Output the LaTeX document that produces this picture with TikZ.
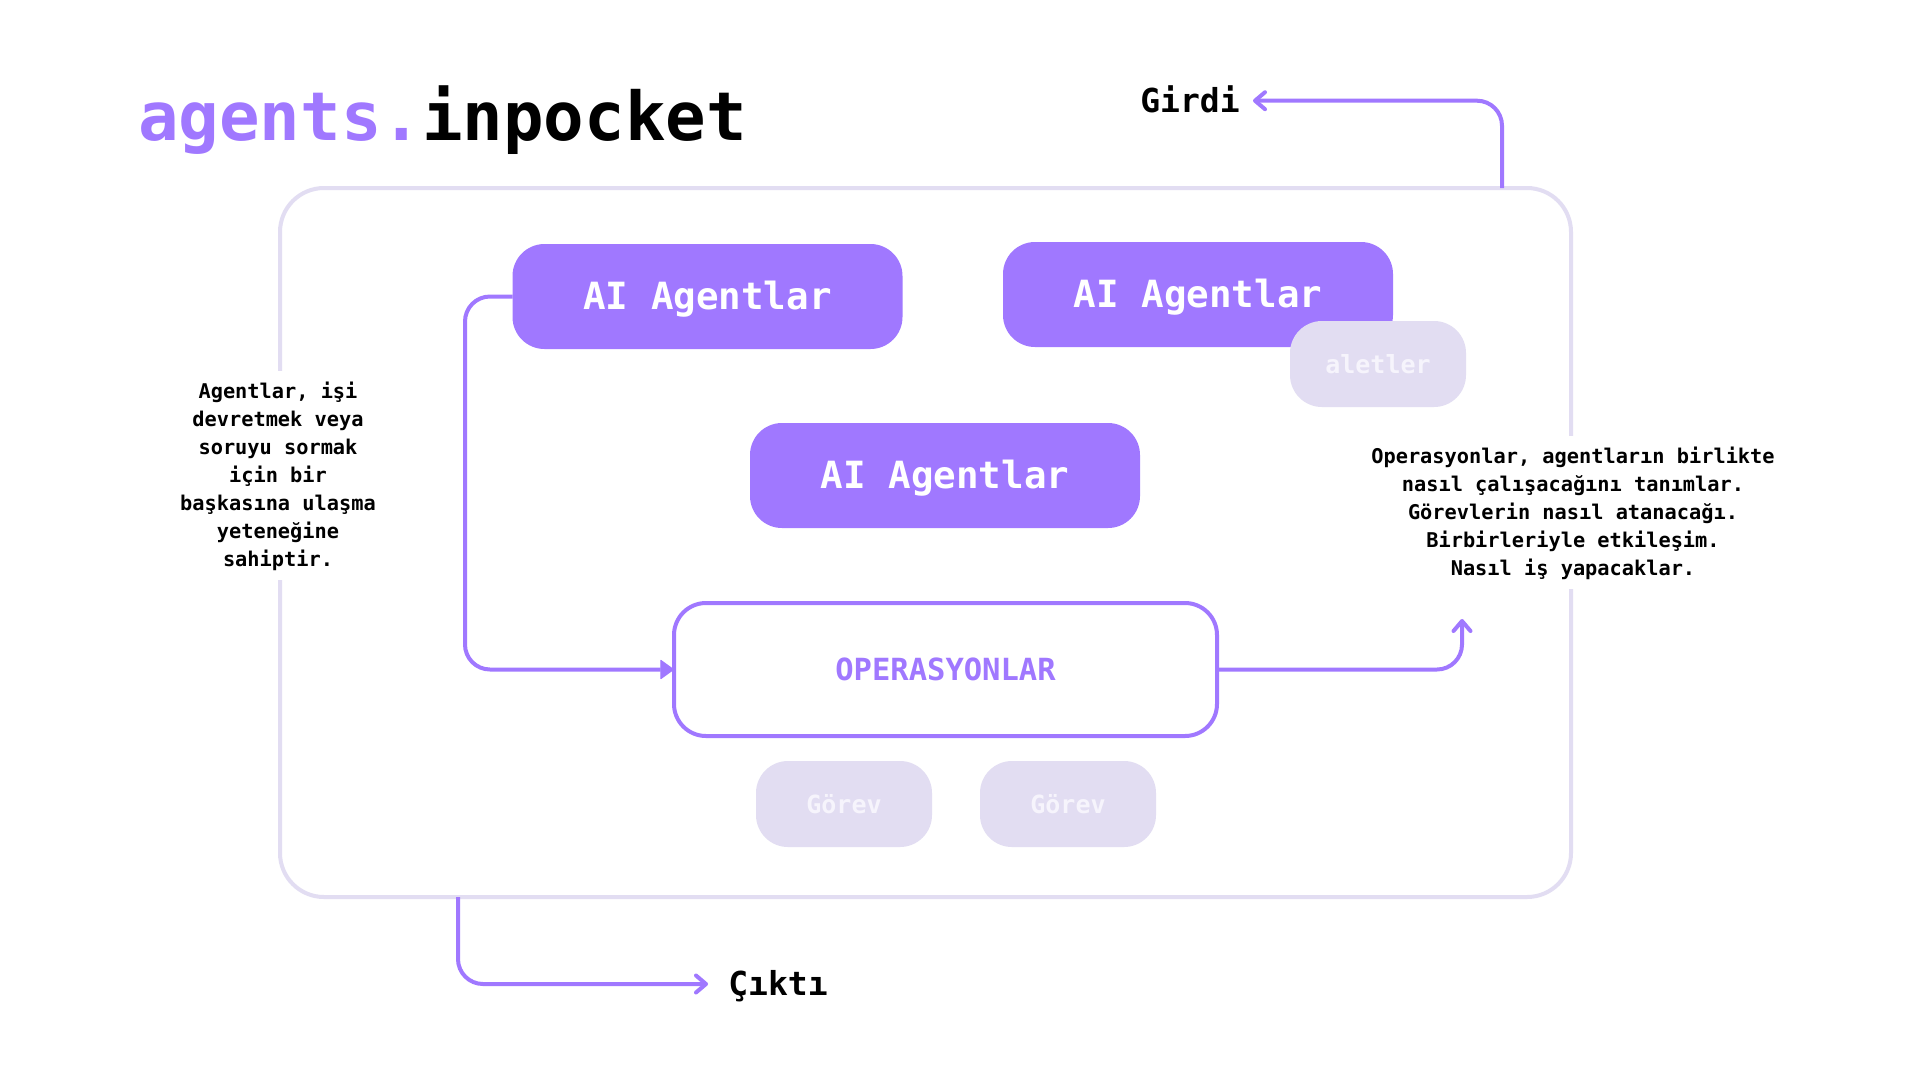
\documentclass[tikz,border=0pt]{standalone}
\usepackage{fontspec}
\setmainfont{DejaVu Sans Mono}[BoldFont={DejaVu Sans Mono Bold}]
\usetikzlibrary{arrows.meta}
\definecolor{violet}{HTML}{A078FF}
\definecolor{lilac}{HTML}{E2DDF2}
\definecolor{paletxt}{HTML}{F6F4FC}
\tikzset{
  agentbox/.style={rectangle,rounded corners=32pt,fill=violet,text=white,outer sep=0pt,inner sep=0pt,
    minimum width=390pt,minimum height=105pt,text height=27pt,text depth=2pt,font=\bfseries\fontsize{37.5}{40}\selectfont},
  chipbox/.style={rectangle,rounded corners=32pt,fill=lilac,text=paletxt,outer sep=0pt,inner sep=0pt,
    minimum width=176pt,minimum height=86pt,font=\bfseries\fontsize{25}{28}\selectfont},
  opsbox/.style={rectangle,rounded corners=32pt,draw=violet,line width=4pt,fill=white,text=violet,outer sep=0pt,
    minimum width=543pt,minimum height=133pt,font=\bfseries\fontsize{30.5}{32}\selectfont},
  framebox/.style={rectangle,rounded corners=44pt,draw=lilac,line width=4pt,outer sep=0pt,
    minimum width=1291pt,minimum height=709pt},
  notetext/.style={inner sep=0pt,outer sep=0pt,align=center,font=\bfseries\fontsize{20.3}{28}\selectfont},
  ioLabel/.style={anchor=base,inner sep=0pt,outer sep=0pt,font=\bfseries\fontsize{33}{36}\selectfont},
  link/.style={draw=violet,line width=4pt,rounded corners=25pt},
  barbtip/.style={-{Straight Barb[length=10pt,width=17pt,round,line width=4pt]}},
  solidtip/.style={-{Triangle[length=14pt,width=20pt,round,line width=1pt]}}
}
\begin{document}
\begin{tikzpicture}[x=1pt,y=-1pt]
\useasboundingbox (0,0) rectangle (1920,1080);
\fill[white] (0,0) rectangle (1920,1080);

\node[anchor=base west,inner sep=0pt,font=\bfseries\fontsize{67.4}{70}\selectfont] (title) at (138,140.5)
  {\textcolor{violet}{agents.}inpocket};

\node[framebox] (frame) at (925.5,542.5) {};
\fill[white] (270,371) rectangle (290,580);
\fill[white] (1560,436) rectangle (1580,589);
\node[notetext] (noteleft) at (278,476.5)
  {Agentlar, işi\\devretmek veya\\soruyu sormak\\için bir\\başkasına ulaşma\\yeteneğine\\sahiptir.};
\node[notetext] (noteright) at (1573,513.5)
  {Operasyonlar, agentların birlikte\\nasıl çalışacağını tanımlar.\\Görevlerin nasıl atanacağı.\\Birbirleriyle etkileşim.\\Nasıl iş yapacaklar.};

\node[ioLabel] (girdi) at (1190,112.5) {Girdi};
\node[ioLabel] (cikti) at (778,995) {Çıktı};

\node[agentbox] (aione) at (707.5,296.5) {AI Agentlar};
\node[agentbox] (aitwo) at (1198,294.5) {AI Agentlar};
\node[agentbox] (aithree) at (945,475.5) {AI Agentlar};
\node[chipbox] (tools) at (1378,364) {aletler};
\node[opsbox] (ops) at (945.5,669.5) {OPERASYONLAR};
\node[chipbox] (taskone) at (844,804) {Görev};
\node[chipbox] (tasktwo) at (1068,804) {Görev};

\coordinate (inbend) at (1502,100.7);
\coordinate (inend) at (1253,100.7);
\coordinate (outbend) at (458,984);
\coordinate (outend) at (708,984);
\coordinate (opsin) at (465,669.5);
\coordinate (opsout) at (1462,669.5);
\coordinate (opsoutend) at (1462,619);

\draw[link,barbtip] (inbend |- frame.north) -- (inbend) -- (inend);
\draw[link,barbtip] (outbend |- frame.south) -- (outbend) -- (outend);
\draw[link,solidtip] (aione.west) -| (opsin) -- (ops.west);
\draw[link,barbtip] (ops.east) -- (opsout) -- (opsoutend);
\end{tikzpicture}
\end{document}
